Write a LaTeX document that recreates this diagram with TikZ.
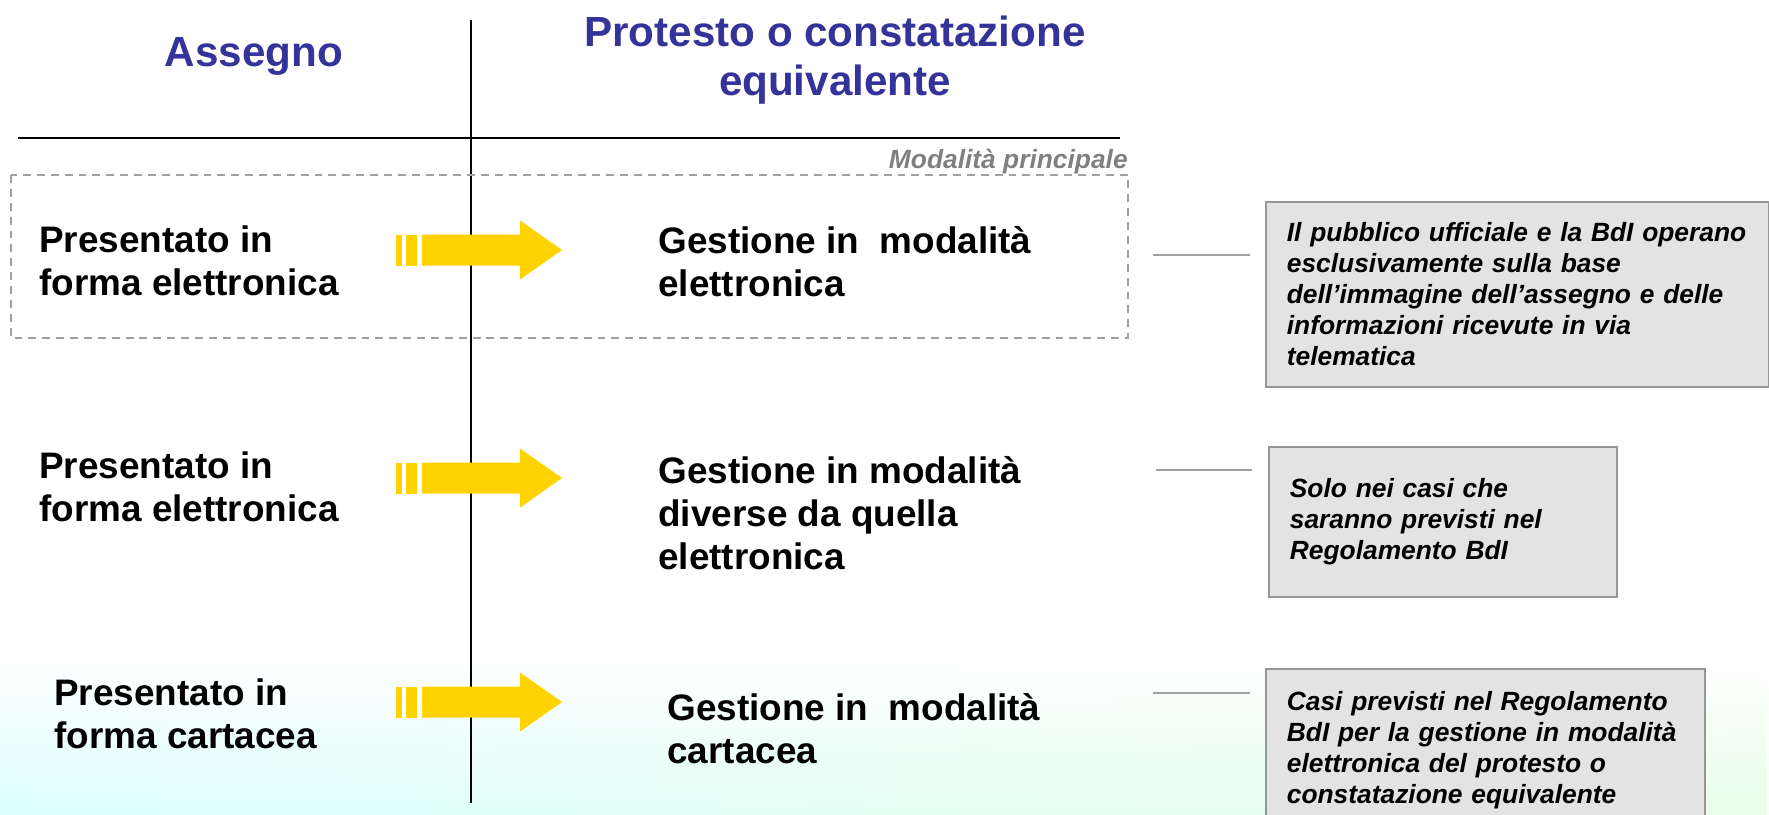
\documentclass[tikz,border=0pt]{standalone}
\usepackage{fontspec}
\setmainfont{Liberation Sans}
\usetikzlibrary{fadings}
\newlength\px \setlength\px{0.02cm}
\definecolor{titleblue}{RGB}{51,51,153}
\definecolor{arrowgold}{RGB}{255,210,0}
\definecolor{boxgrey}{RGB}{227,227,227}
\definecolor{edgegrey}{RGB}{150,150,150}
\definecolor{linegrey}{RGB}{160,160,160}
\definecolor{labelgrey}{RGB}{128,128,128}

\begin{document}
\begin{tikzpicture}[x=1\px, y=-1\px,
   title/.style={text=titleblue, align=center, inner sep=0,
      font=\fontsize{24pt}{27.9pt}\selectfont\bfseries},
   rowtext/.style={anchor=west, align=left, inner sep=0,
      font=\fontsize{21pt}{24.5pt}\selectfont\bfseries},
   notebox/.style={draw=edgegrey, fill=boxgrey, line width=1pt, anchor=north west,
      inner xsep=21\px, inner ysep=0, align=left,
      font=\fontsize{15pt}{17.6pt}\selectfont\bfseries\itshape},
   connector/.style={draw=linegrey, line width=1.1pt}]
   \useasboundingbox (0,0) rectangle (1769,815);
   % faint wash at the foot of the page
   \shade[left color=cyan!14, right color=green!9, path fading=north] (0,660) rectangle (1769,815);

   % column rules
   \draw[line width=1pt] (471,20) -- (471,803);
   \draw[line width=1.5pt] (18,138) -- (1120,138);

   \node[title] (cheque) at (254,56) {Assegno};
   \node[title] (protest) at (835,60) {Protesto o constatazione\\equivalente};

   % main mode frame
   \draw[linegrey, line width=0.9pt, dash pattern=on 4.5pt off 3.4pt] (11,175) rectangle (1128,338);
   \node[anchor=south east, inner sep=0, text=labelgrey,
      font=\fontsize{15pt}{18pt}\selectfont\bfseries\itshape] (mainmode) at (1128,174) {Modalità principale};

   \node[rowtext] (cheque1) at (39,261) {Presentato in\\forma elettronica};
   \node[rowtext] (cheque2) at (39,487) {Presentato in\\forma elettronica};
   \node[rowtext] (cheque3) at (54,714) {Presentato in\\forma cartacea};

   \node[rowtext] (manage1) at (658,262) {Gestione in~ modalità\\elettronica};
   \node[rowtext] (manage2) at (658,513) {Gestione in modalità\\diverse da quella\\elettronica};
   \node[rowtext] (manage3) at (667,729) {Gestione in~ modalità\\cartacea};

   \foreach \c in {250,478,702}{
      \fill[arrowgold] (396,\c-15.5) rectangle (402,\c+15.5);
      \fill[arrowgold] (406,\c-15.5) rectangle (417,\c+15.5);
      \fill[arrowgold] (422,\c-15.5) -- (520,\c-15.5) -- (520,\c-29.5) -- (562,\c)
         -- (520,\c+29.5) -- (520,\c+15.5) -- (422,\c+15.5) -- cycle;
   }

   \node[notebox, text width=461\px, minimum height=185\px] (note1) at (1265,201)
      {Il pubblico ufficiale e la BdI operano\\esclusivamente sulla base\\dell’immagine dell’assegno e delle\\informazioni ricevute in via\\telematica};
   \node[notebox, text width=306\px, minimum height=150\px] (note2) at (1268,446)
      {Solo nei casi che\\saranno previsti nel\\Regolamento BdI};
   \node[notebox, text width=397\px, minimum height=162\px] (note3) at (1265,668)
      {Casi previsti nel Regolamento\\BdI per la gestione in modalità\\elettronica del protesto o\\constatazione equivalente};

   \coordinate (tie1a) at (1153,255); \coordinate (tie1b) at (1250,255);
   \coordinate (tie2a) at (1156,470); \coordinate (tie2b) at (1252,470);
   \coordinate (tie3a) at (1153,693); \coordinate (tie3b) at (1250,693);
   \draw[connector] (tie1a) -- (tie1b);
   \draw[connector] (tie2a) -- (tie2b);
   \draw[connector] (tie3a) -- (tie3b);
\end{tikzpicture}
\end{document}
